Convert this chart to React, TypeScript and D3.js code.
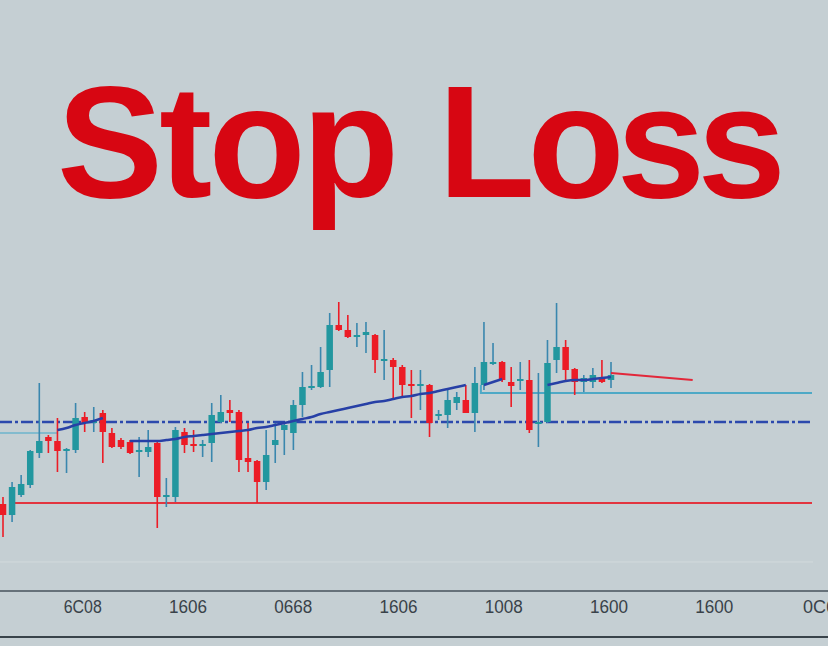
import React, { useRef, useEffect } from "react";
import * as d3 from "d3";

// candle data: [open, high, low, close]
const candles: [number, number, number, number][] = [
  [1036, 1043, 1003, 1025],
  [1025, 1058, 1018, 1053],
  [1045, 1065, 1043, 1056],
  [1055, 1090, 1052, 1089],
  [1087, 1157, 1082, 1099],
  [1103, 1105, 1087, 1099],
  [1099, 1122, 1068, 1089],
  [1089, 1092, 1067, 1091],
  [1090, 1137, 1087, 1122],
  [1123, 1128, 1108, 1117],
  [1117, 1133, 1108, 1120],
  [1127, 1130, 1077, 1108],
  [1107, 1112, 1092, 1093],
  [1100, 1102, 1091, 1093],
  [1098, 1100, 1086, 1087],
  [1088, 1103, 1063, 1090],
  [1088, 1110, 1083, 1093],
  [1097, 1098, 1012, 1043],
  [1043, 1062, 1033, 1045],
  [1043, 1113, 1038, 1110],
  [1108, 1112, 1087, 1095],
  [1096, 1110, 1088, 1094],
  [1094, 1100, 1083, 1096],
  [1097, 1137, 1078, 1125],
  [1118, 1145, 1117, 1128],
  [1130, 1140, 1118, 1127],
  [1128, 1130, 1068, 1080],
  [1082, 1117, 1068, 1078],
  [1079, 1080, 1037, 1058],
  [1058, 1110, 1050, 1085],
  [1095, 1117, 1077, 1100],
  [1110, 1117, 1085, 1115],
  [1107, 1140, 1090, 1135],
  [1135, 1168, 1123, 1153],
  [1152, 1175, 1150, 1154],
  [1153, 1193, 1152, 1168],
  [1170, 1227, 1153, 1215],
  [1215, 1238, 1209, 1210],
  [1210, 1225, 1202, 1203],
  [1203, 1217, 1193, 1205],
  [1205, 1218, 1187, 1208],
  [1205, 1206, 1167, 1180],
  [1179, 1210, 1160, 1181],
  [1180, 1182, 1140, 1173],
  [1173, 1175, 1143, 1155],
  [1156, 1170, 1122, 1154],
  [1154, 1170, 1130, 1156],
  [1155, 1156, 1103, 1117],
  [1124, 1130, 1120, 1126],
  [1125, 1150, 1112, 1140],
  [1137, 1148, 1130, 1143],
  [1140, 1155, 1127, 1127],
  [1127, 1173, 1108, 1157],
  [1155, 1218, 1150, 1178],
  [1176, 1197, 1175, 1178],
  [1178, 1179, 1158, 1160],
  [1158, 1173, 1133, 1154],
  [1159, 1178, 1150, 1161],
  [1160, 1180, 1107, 1110],
  [1116, 1167, 1093, 1118],
  [1118, 1200, 1117, 1177],
  [1180, 1237, 1167, 1193],
  [1193, 1200, 1160, 1170],
  [1171, 1172, 1145, 1158],
  [1158, 1165, 1148, 1162],
  [1158, 1172, 1152, 1165],
  [1162, 1180, 1157, 1158],
  [1160, 1178, 1152, 1165],
];

// moving average, null where the line breaks
const movingAvg: (number | null)[] = [
  null, null, null, null, null, null,
  1110, 1112, 1115, 1117, 1119, 1122,
  null, null,
  1099, 1099, 1099, 1099, 1100, 1101, 1103, 1104, 1105, 1106,
  1107, 1108, 1109, 1110, 1112, 1113, 1115, 1117, 1119, 1121,
  1123, 1126, 1128, 1130, 1132, 1134, 1136, 1138, 1139, 1141,
  1143, 1144, 1146, 1147, 1149, 1151, 1153, 1155,
  null,
  1155, 1158, 1161,
  null, null, null, null,
  1155, 1157, 1159, 1160, 1160, 1161, 1162, 1163,
];

// projected stop line after the last candle: [index, price]
const projection: [number, number][] = [
  [67, 1167],
  [76, 1160],
];

const stopLevel = 1037;
const pivotLevel = 1118;
const resistLevel = 1147;

const titleWords = ["Stop", "Loss"];
const tickLabels = ["0", "6C08", "1606", "0668", "1606", "1008", "1600", "1600", "0C6"];

export default function App() {
  const svgRef = useRef<SVGSVGElement | null>(null);

  useEffect(() => {
    document.body.style.margin = "0";
    const W = 828;
    const H = 646;

    const svg = d3.select(svgRef.current);
    svg.selectAll("*").remove();
    svg.attr("width", W).attr("height", H);

    svg.append("rect").attr("width", W).attr("height", H).attr("fill", "#c5cfd3");

    // title, one text per word so the gap matches
    const titlePos = [
      { x: 57, len: 342 },
      { x: 438, len: 348 },
    ];
    titleWords.forEach((w, i) => {
      svg
        .append("text")
        .attr("x", titlePos[i].x)
        .attr("y", 197)
        .attr("font-family", "Liberation Sans, Arial, sans-serif")
        .attr("font-weight", "bold")
        .attr("font-size", 159)
        .attr("textLength", titlePos[i].len)
        .attr("lengthAdjust", "spacing")
        .attr("fill", "#d70612")
        .text(w);
    });

    // scales
    const x = d3.scaleLinear().domain([0, 67]).range([3, 611]);
    const y = d3.scaleLinear().domain([1000, 1250]).range([540, 290]);
    const xEnd = 812;

    // horizontal levels
    svg
      .append("line")
      .attr("x1", 13)
      .attr("x2", xEnd)
      .attr("y1", y(stopLevel))
      .attr("y2", y(stopLevel))
      .attr("stroke", "#e2353f")
      .attr("stroke-width", 2);

    svg
      .append("line")
      .attr("x1", 0)
      .attr("x2", xEnd)
      .attr("y1", y(pivotLevel))
      .attr("y2", y(pivotLevel))
      .attr("stroke", "#2c49ad")
      .attr("stroke-width", 2.5)
      .attr("stroke-dasharray", "12,3,3,3");

    svg
      .append("path")
      .attr("fill", "none")
      .attr("stroke", "#4ea9c6")
      .attr("stroke-width", 2)
      .attr(
        "d",
        `M${x(52) + 6},${y(1155)}L${x(52) + 6},${y(resistLevel)}L${xEnd},${y(resistLevel)}`
      );

    svg
      .append("line")
      .attr("x1", 0)
      .attr("x2", x(6))
      .attr("y1", y(1107))
      .attr("y2", y(1107))
      .attr("stroke", "#6db4cc")
      .attr("stroke-width", 1.5);

    // candles
    const bodyW = 6.5;
    const teal = "#22979f";
    const tealWick = "#3a87ae";
    const red = "#ec1c26";

    const g = svg.append("g");
    candles.forEach(([o, h, l, c], i) => {
      const up = c >= o;
      const cx = x(i);
      g.append("line")
        .attr("x1", cx)
        .attr("x2", cx)
        .attr("y1", y(h))
        .attr("y2", y(l))
        .attr("stroke", up ? tealWick : red)
        .attr("stroke-width", 1.6);
      const top = y(Math.max(o, c));
      const bot = y(Math.min(o, c));
      g.append("rect")
        .attr("x", cx - bodyW / 2)
        .attr("y", top)
        .attr("width", bodyW)
        .attr("height", Math.max(2, bot - top))
        .attr("fill", up ? teal : red);
    });

    // moving average
    const maLine = d3
      .line<number | null>()
      .defined((d) => d !== null)
      .x((_, i) => x(i))
      .y((d) => y(d as number))
      .curve(d3.curveMonotoneX);

    svg
      .append("path")
      .datum(movingAvg)
      .attr("fill", "none")
      .attr("stroke", "#2740a6")
      .attr("stroke-width", 2.5)
      .attr("d", maLine);

    // projection
    svg
      .append("path")
      .datum(projection)
      .attr("fill", "none")
      .attr("stroke", "#e2283a")
      .attr("stroke-width", 2)
      .attr(
        "d",
        d3
          .line<[number, number]>()
          .x((d) => x(d[0]))
          .y((d) => y(d[1]))
      );

    // bottom axis
    svg
      .append("line")
      .attr("x1", 0)
      .attr("x2", 813)
      .attr("y1", 562)
      .attr("y2", 562)
      .attr("stroke", "#d2dadc")
      .attr("stroke-width", 1);

    const xAxis = d3
      .scalePoint<string>()
      .domain(tickLabels.map((_, i) => String(i)))
      .range([-23, 819]);
    const axisG = svg
      .append("g")
      .attr("transform", "translate(0,591)")
      .call(
        d3
          .axisBottom(xAxis)
          .tickSize(0)
          .tickPadding(9)
          .tickFormat((d) => tickLabels[+d])
      );
    axisG
      .select(".domain")
      .attr("d", `M0,0H${W}`)
      .attr("stroke", "#46525b")
      .attr("stroke-width", 1.5);
    axisG
      .selectAll<SVGTextElement, string>("text")
      .attr("font-family", "Liberation Sans, Arial, sans-serif")
      .attr("font-size", 18)
      .attr("fill", "#394249")
      .each(function (d) {
        const t = tickLabels[+d];
        if (t.length === 4) {
          d3.select(this).attr("textLength", 38).attr("lengthAdjust", "spacingAndGlyphs");
        }
      });

    svg
      .append("line")
      .attr("x1", 0)
      .attr("x2", W)
      .attr("y1", 637)
      .attr("y2", 637)
      .attr("stroke", "#39434a")
      .attr("stroke-width", 2);
  }, []);

  return <svg ref={svgRef} style={{ display: "block" }} />;
}
